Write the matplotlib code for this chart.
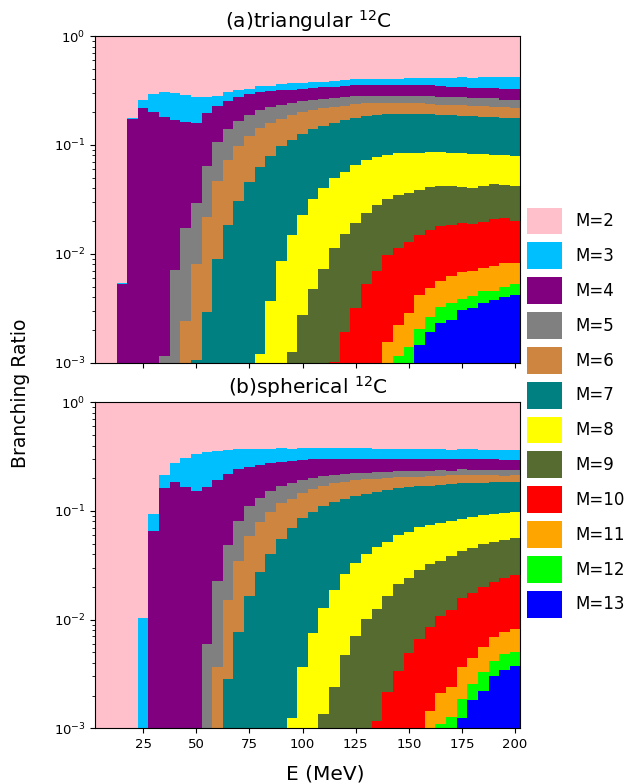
import numpy as np
import matplotlib
matplotlib.use("Agg")
import matplotlib.pyplot as plt
from matplotlib.patches import Patch

# bin centres (MeV), 5 MeV wide bins
E = np.arange(5, 205, 5)

multiplicities = [2, 3, 4, 5, 6, 7, 8, 9, 10, 11, 12, 13]
colors = ['pink', 'deepskyblue', 'purple', 'gray', 'peru', 'teal',
          'yellow', 'darkolivegreen', 'red', 'orange', 'lime', 'blue']

# fraction of events with multiplicity >= M
# (a) triangular 12C
tri_ge3 = [0, 0, 0.0054, 0.176, 0.258, 0.291, 0.306, 0.300, 0.287, 0.275,
           0.275, 0.283, 0.308, 0.319, 0.326, 0.347, 0.350, 0.362, 0.367, 0.373,
           0.381, 0.381, 0.386, 0.394, 0.400, 0.403, 0.403, 0.403, 0.403, 0.411,
           0.411, 0.411, 0.411, 0.411, 0.420, 0.414, 0.420, 0.420, 0.420, 0.420]
tri_ge4 = [0, 0, 0.00528, 0.172, 0.217, 0.200, 0.179, 0.169, 0.163, 0.159,
           0.196, 0.228, 0.255, 0.277, 0.291, 0.304, 0.310, 0.317, 0.319, 0.324,
           0.331, 0.338, 0.342, 0.347, 0.352, 0.352, 0.355, 0.355, 0.352, 0.352,
           0.355, 0.352, 0.347, 0.342, 0.340, 0.335, 0.333, 0.331, 0.326, 0.326]
tri_ge5 = [0, 0, 0, 0, 0, 0, 0.00115, 0.0071, 0.0171, 0.0291,
           0.0636, 0.106, 0.140, 0.167, 0.188, 0.209, 0.223, 0.232, 0.244, 0.253,
           0.260, 0.266, 0.270, 0.275, 0.279, 0.283, 0.283, 0.283, 0.283, 0.283,
           0.283, 0.279, 0.275, 0.273, 0.273, 0.270, 0.268, 0.268, 0.258, 0.260]
tri_ge6 = [0] * 8 + [0.00241, 0.0080,
           0.0216, 0.0466, 0.0727, 0.0977, 0.121, 0.142, 0.158, 0.174, 0.188, 0.202,
           0.211, 0.218, 0.223, 0.229, 0.237, 0.241, 0.241, 0.243, 0.243, 0.241,
           0.241, 0.237, 0.234, 0.232, 0.234, 0.228, 0.226, 0.223, 0.221, 0.220]
tri_ge7 = [0] * 9 + [0.00106,
           0.00292, 0.0089, 0.0183, 0.0305, 0.0456, 0.0631, 0.0791, 0.0977, 0.111, 0.126,
           0.140, 0.150, 0.160, 0.169, 0.178, 0.184, 0.188, 0.191, 0.191, 0.191,
           0.191, 0.194, 0.190, 0.187, 0.186, 0.183, 0.182, 0.180, 0.178, 0.177]
tri_ge8 = [0] * 15 + [0.00120, 0.00371, 0.00865, 0.0149, 0.0227,
           0.0318, 0.0399, 0.0500, 0.0568, 0.0654, 0.0727, 0.0780, 0.0808, 0.0837, 0.0843,
           0.0849, 0.0861, 0.0855, 0.0849, 0.0837, 0.0831, 0.0825, 0.0814, 0.0802, 0.0791]
tri_ge9 = [0] * 18 + [0.00126, 0.00274,
           0.00478, 0.00725, 0.0114, 0.0152, 0.0191, 0.0237, 0.0281, 0.0318, 0.0349, 0.0364,
           0.0385, 0.0413, 0.0419, 0.0419, 0.0413, 0.0405, 0.0419, 0.0434, 0.0428, 0.0419]
tri_ge10 = [0] * 22 + [0.00102, 0.00193, 0.00320, 0.00528, 0.00695, 0.00968, 0.0114, 0.0127,
            0.0149, 0.0165, 0.0180, 0.0184, 0.0191, 0.0188, 0.0197, 0.0207, 0.0212, 0.0200]
tri_ge11 = [0] * 27 + [0.00154, 0.00222, 0.00288,
            0.00418, 0.00489, 0.00567, 0.00625, 0.00681, 0.00700, 0.00746, 0.00773, 0.00818, 0.00829]
tri_ge12 = [0] * 28 + [0.00116, 0.00140,
            0.00204, 0.00261, 0.00322, 0.00351, 0.00382, 0.00413, 0.00455, 0.00459, 0.00499, 0.00528]
tri_ge13 = [0] * 30 + [0.00144, 0.00193, 0.00233, 0.00247, 0.00305,
                       0.00320, 0.00351, 0.00376, 0.00404, 0.00418]

# (b) spherical 12C
sph_ge3 = [0, 0, 0, 0, 0.0104, 0.0938, 0.2145, 0.275, 0.307, 0.335,
           0.349, 0.357, 0.362, 0.369, 0.369, 0.369, 0.369, 0.377, 0.369, 0.377,
           0.377, 0.377, 0.377, 0.377, 0.377, 0.377, 0.372, 0.372, 0.372, 0.372,
           0.372, 0.372, 0.369, 0.364, 0.372, 0.369, 0.364, 0.364, 0.364, 0.364]
sph_ge4 = [0, 0, 0, 0, 0, 0.0655, 0.163, 0.186, 0.166, 0.154,
           0.166, 0.194, 0.219, 0.243, 0.254, 0.267, 0.275, 0.283, 0.291, 0.295,
           0.299, 0.301, 0.299, 0.301, 0.301, 0.301, 0.301, 0.301, 0.301, 0.301,
           0.301, 0.301, 0.301, 0.301, 0.301, 0.301, 0.301, 0.301, 0.295, 0.295]
sph_ge5 = [0] * 10 + [0.00597, 0.0227, 0.0487, 0.0809, 0.111, 0.133, 0.152, 0.168, 0.180, 0.193,
           0.201, 0.210, 0.216, 0.221, 0.224, 0.225, 0.229, 0.229, 0.232, 0.233,
           0.233, 0.233, 0.238, 0.233, 0.243, 0.238, 0.238, 0.238, 0.238, 0.238]
sph_ge6 = [0] * 11 + [0.00367, 0.0152, 0.0347, 0.0589, 0.0787, 0.0981, 0.118, 0.130, 0.146,
           0.159, 0.171, 0.180, 0.186, 0.192, 0.196, 0.198, 0.200, 0.204, 0.206,
           0.206, 0.210, 0.210, 0.213, 0.215, 0.215, 0.215, 0.215, 0.211, 0.215]
sph_ge7 = [0] * 12 + [0.00284, 0.00776, 0.0165, 0.0275, 0.0402, 0.0553, 0.0703, 0.0862,
           0.0981, 0.111, 0.121, 0.130, 0.138, 0.144, 0.151, 0.156, 0.162, 0.165,
           0.168, 0.171, 0.174, 0.176, 0.180, 0.180, 0.182, 0.184, 0.185, 0.186]
sph_ge8 = [0] * 18 + [0.00124, 0.00369,
           0.00759, 0.0129, 0.0187, 0.0265, 0.0332, 0.0402, 0.0470, 0.0522, 0.0597, 0.0641,
           0.0708, 0.0738, 0.0781, 0.0809, 0.0844, 0.0881, 0.0919, 0.0932, 0.0952, 0.0986]
sph_ge9 = [0] * 21 + [0.00135, 0.00242, 0.00473, 0.00707, 0.0101, 0.0125, 0.0165, 0.0214, 0.0240,
           0.0287, 0.0323, 0.0347, 0.0388, 0.0428, 0.0460, 0.0494, 0.0515, 0.0541, 0.0568]
sph_ge10 = [0] * 26 + [0.00117, 0.00217, 0.00337, 0.00490,
            0.00659, 0.00856, 0.0108, 0.0123, 0.0159, 0.0175, 0.0201, 0.0224, 0.0240, 0.0258]
sph_ge11 = [0] * 31 + [0.00144, 0.00211, 0.00242, 0.00369, 0.00447, 0.00564, 0.00688, 0.00765, 0.00820]
sph_ge12 = [0] * 32 + [0.00110, 0.00127, 0.00186, 0.00256, 0.00330, 0.00416, 0.00486, 0.00504]
sph_ge13 = [0] * 34 + [0.00125, 0.00182, 0.00222, 0.00305, 0.00344, 0.00375]

ones = [1.0] * len(E)
panels = [
    ('(a)triangular $^{12}$C',
     [ones, tri_ge3, tri_ge4, tri_ge5, tri_ge6, tri_ge7, tri_ge8, tri_ge9,
      tri_ge10, tri_ge11, tri_ge12, tri_ge13]),
    ('(b)spherical $^{12}$C',
     [ones, sph_ge3, sph_ge4, sph_ge5, sph_ge6, sph_ge7, sph_ge8, sph_ge9,
      sph_ge10, sph_ge11, sph_ge12, sph_ge13]),
]

fig = plt.figure(figsize=(6.27, 7.83), dpi=100)
ax_top = fig.add_axes([0.152, 0.5368, 0.678, 0.4172])
ax_bot = fig.add_axes([0.152, 0.0699, 0.678, 0.4163], sharex=ax_top)

edges = np.append(E - 2.5, E[-1] + 2.5)
floor = 1e-5
for ax, (title, cums) in zip([ax_top, ax_bot], panels):
    # overlay cumulative fractions, M>=2 (everything) first
    for cum, c in zip(cums, colors):
        v = np.maximum(np.asarray(cum, dtype=float), floor)
        v = np.append(v, v[-1])
        ax.fill_between(edges, floor, v, step='post', color=c, linewidth=0)
    ax.set_yscale('log')
    ax.set_ylim(1e-3, 1)
    ax.set_xlim(2.5, 202.5)
    ax.set_title(title, fontsize=14.5)
    ax.tick_params(labelsize=9.5)

ax_bot.set_xticks([25, 50, 75, 100, 125, 150, 175, 200])
plt.setp(ax_top.get_xticklabels(), visible=False)

fig.text(0.518, 0.004, 'E (MeV)', ha='center', va='baseline', fontsize=14.5)
fig.text(0.032, 0.498, 'Branching Ratio', rotation=90, ha='center', va='center', fontsize=13.5)

handles = [Patch(facecolor=c, label=f'M={m}') for m, c in zip(multiplicities, colors)]
fig.legend(handles=handles, loc='center left', bbox_to_anchor=(0.817, 0.473),
           frameon=False, fontsize=12, handleheight=2.1, handlelength=2.1,
           labelspacing=0.48)

fig.savefig('out.png', dpi=100)
